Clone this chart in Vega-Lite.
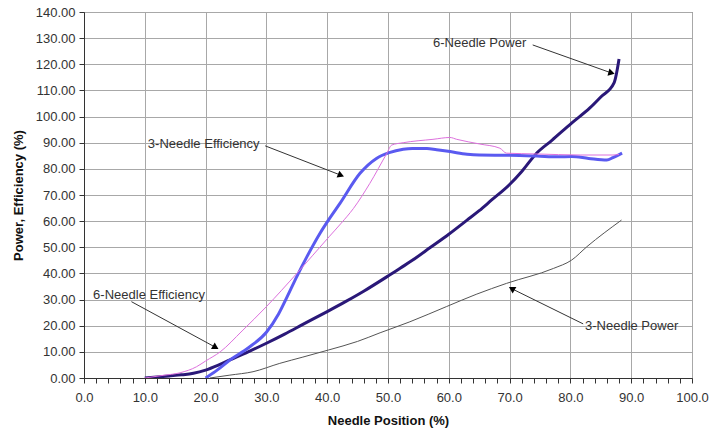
{
  "$schema": "https://vega.github.io/schema/vega-lite/v6.json",
  "width": 608,
  "height": 366,
  "autosize": "none",
  "padding": {"left": 84, "top": 12, "right": 17, "bottom": 52},
  "background": "white",
  "config": {
    "font": "Liberation Sans",
    "view": {"stroke": "#555555", "strokeWidth": 1},
    "axis": {
      "labelFont": "Liberation Sans",
      "labelFontSize": 13,
      "labelColor": "#333333",
      "titleFont": "Liberation Sans",
      "titleFontSize": 13,
      "titleFontWeight": "bold",
      "titleColor": "#111111",
      "gridColor": "#a8a8a8",
      "gridWidth": 1,
      "domainColor": "#333333",
      "tickColor": "#333333",
      "tickSize": 5
    }
  },
  "datasets": {
    "lines": [
      {"series": "6-Needle Power", "x": 10, "y": 0},
      {"series": "6-Needle Power", "x": 12, "y": 0.4},
      {"series": "6-Needle Power", "x": 14, "y": 0.8},
      {"series": "6-Needle Power", "x": 16, "y": 1.2},
      {"series": "6-Needle Power", "x": 18, "y": 1.8},
      {"series": "6-Needle Power", "x": 20, "y": 3},
      {"series": "6-Needle Power", "x": 22, "y": 4.8},
      {"series": "6-Needle Power", "x": 24, "y": 6.9},
      {"series": "6-Needle Power", "x": 27, "y": 10},
      {"series": "6-Needle Power", "x": 30, "y": 13.3},
      {"series": "6-Needle Power", "x": 33, "y": 16.8},
      {"series": "6-Needle Power", "x": 36, "y": 20.5},
      {"series": "6-Needle Power", "x": 40, "y": 25.4},
      {"series": "6-Needle Power", "x": 43, "y": 29.2},
      {"series": "6-Needle Power", "x": 46, "y": 33.2},
      {"series": "6-Needle Power", "x": 50, "y": 39},
      {"series": "6-Needle Power", "x": 52, "y": 42},
      {"series": "6-Needle Power", "x": 54, "y": 45},
      {"series": "6-Needle Power", "x": 57, "y": 50},
      {"series": "6-Needle Power", "x": 60, "y": 55},
      {"series": "6-Needle Power", "x": 63, "y": 60.4},
      {"series": "6-Needle Power", "x": 65, "y": 64},
      {"series": "6-Needle Power", "x": 67, "y": 68},
      {"series": "6-Needle Power", "x": 70, "y": 74},
      {"series": "6-Needle Power", "x": 72, "y": 79},
      {"series": "6-Needle Power", "x": 74.4, "y": 85.9},
      {"series": "6-Needle Power", "x": 77, "y": 91},
      {"series": "6-Needle Power", "x": 80.2, "y": 97.5},
      {"series": "6-Needle Power", "x": 83.2, "y": 103.3},
      {"series": "6-Needle Power", "x": 85, "y": 107.5},
      {"series": "6-Needle Power", "x": 87.2, "y": 113},
      {"series": "6-Needle Power", "x": 88, "y": 122},
      {"series": "3-Needle Efficiency", "x": 20, "y": 0},
      {"series": "3-Needle Efficiency", "x": 22, "y": 3.2},
      {"series": "3-Needle Efficiency", "x": 24, "y": 6.9},
      {"series": "3-Needle Efficiency", "x": 27, "y": 11.5},
      {"series": "3-Needle Efficiency", "x": 30, "y": 17.5},
      {"series": "3-Needle Efficiency", "x": 32, "y": 24.5},
      {"series": "3-Needle Efficiency", "x": 33.5, "y": 31.5},
      {"series": "3-Needle Efficiency", "x": 35, "y": 38.8},
      {"series": "3-Needle Efficiency", "x": 36.8, "y": 47},
      {"series": "3-Needle Efficiency", "x": 38.8, "y": 55.3},
      {"series": "3-Needle Efficiency", "x": 40.2, "y": 60.4},
      {"series": "3-Needle Efficiency", "x": 42.1, "y": 66.8},
      {"series": "3-Needle Efficiency", "x": 45.4, "y": 78.3},
      {"series": "3-Needle Efficiency", "x": 48.1, "y": 84},
      {"series": "3-Needle Efficiency", "x": 50.2, "y": 86.2},
      {"series": "3-Needle Efficiency", "x": 52.5, "y": 87.5},
      {"series": "3-Needle Efficiency", "x": 54, "y": 87.8},
      {"series": "3-Needle Efficiency", "x": 56.4, "y": 87.8},
      {"series": "3-Needle Efficiency", "x": 58, "y": 87.3},
      {"series": "3-Needle Efficiency", "x": 60.2, "y": 86.6},
      {"series": "3-Needle Efficiency", "x": 63, "y": 85.6},
      {"series": "3-Needle Efficiency", "x": 65, "y": 85.3},
      {"series": "3-Needle Efficiency", "x": 70, "y": 85.2},
      {"series": "3-Needle Efficiency", "x": 74.5, "y": 84.9},
      {"series": "3-Needle Efficiency", "x": 78, "y": 84.6},
      {"series": "3-Needle Efficiency", "x": 80.2, "y": 84.7},
      {"series": "3-Needle Efficiency", "x": 83, "y": 84},
      {"series": "3-Needle Efficiency", "x": 86, "y": 83.4},
      {"series": "3-Needle Efficiency", "x": 87, "y": 84.3},
      {"series": "3-Needle Efficiency", "x": 88.5, "y": 86},
      {"series": "6-Needle Efficiency", "x": 10, "y": 0},
      {"series": "6-Needle Efficiency", "x": 13, "y": 1},
      {"series": "6-Needle Efficiency", "x": 15.8, "y": 2},
      {"series": "6-Needle Efficiency", "x": 18.5, "y": 4.3},
      {"series": "6-Needle Efficiency", "x": 20, "y": 6.5},
      {"series": "6-Needle Efficiency", "x": 22.4, "y": 10},
      {"series": "6-Needle Efficiency", "x": 26, "y": 18},
      {"series": "6-Needle Efficiency", "x": 30, "y": 27.3},
      {"series": "6-Needle Efficiency", "x": 35, "y": 40},
      {"series": "6-Needle Efficiency", "x": 40.3, "y": 54},
      {"series": "6-Needle Efficiency", "x": 42.3, "y": 59.2},
      {"series": "6-Needle Efficiency", "x": 44.3, "y": 64.8},
      {"series": "6-Needle Efficiency", "x": 47, "y": 74.4},
      {"series": "6-Needle Efficiency", "x": 49.8, "y": 85.9},
      {"series": "6-Needle Efficiency", "x": 50.6, "y": 89.1},
      {"series": "6-Needle Efficiency", "x": 52.5, "y": 90},
      {"series": "6-Needle Efficiency", "x": 57.4, "y": 91.3},
      {"series": "6-Needle Efficiency", "x": 60.2, "y": 92},
      {"series": "6-Needle Efficiency", "x": 61.3, "y": 91.3},
      {"series": "6-Needle Efficiency", "x": 65.1, "y": 89.5},
      {"series": "6-Needle Efficiency", "x": 68.4, "y": 87.9},
      {"series": "6-Needle Efficiency", "x": 69.5, "y": 86},
      {"series": "6-Needle Efficiency", "x": 74.5, "y": 85.7},
      {"series": "6-Needle Efficiency", "x": 81.6, "y": 85.3},
      {"series": "6-Needle Efficiency", "x": 87, "y": 85.3},
      {"series": "6-Needle Efficiency", "x": 88, "y": 85.5},
      {"series": "3-Needle Power", "x": 20.7, "y": 0},
      {"series": "3-Needle Power", "x": 24, "y": 1.1},
      {"series": "3-Needle Power", "x": 27.8, "y": 2.4},
      {"series": "3-Needle Power", "x": 32.2, "y": 5.6},
      {"series": "3-Needle Power", "x": 36, "y": 8},
      {"series": "3-Needle Power", "x": 40.2, "y": 10.7},
      {"series": "3-Needle Power", "x": 45, "y": 14},
      {"series": "3-Needle Power", "x": 48.7, "y": 17.3},
      {"series": "3-Needle Power", "x": 53.6, "y": 21.5},
      {"series": "3-Needle Power", "x": 59.6, "y": 27.3},
      {"series": "3-Needle Power", "x": 64.5, "y": 32},
      {"series": "3-Needle Power", "x": 69.5, "y": 36.2},
      {"series": "3-Needle Power", "x": 77.2, "y": 41.9},
      {"series": "3-Needle Power", "x": 80.2, "y": 45.1},
      {"series": "3-Needle Power", "x": 82.7, "y": 50.2},
      {"series": "3-Needle Power", "x": 88.4, "y": 60.4}
    ],
    "notes": [
      {"label": "3-Needle Efficiency", "x": 10.5, "y": 89.5},
      {"label": "6-Needle Efficiency", "x": 1.5, "y": 31.8},
      {"label": "6-Needle Power", "x": 57.4, "y": 128},
      {"label": "3-Needle Power", "x": 82.4, "y": 19.9}
    ],
    "arrows": [
      {"label": "3-Needle Efficiency", "x": 29.8, "y": 88.8, "x2": 42.1, "y2": 77.7},
      {"label": "6-Needle Efficiency", "x": 7.8, "y": 29.2, "x2": 21.5, "y2": 11.9},
      {"label": "6-Needle Power", "x": 73.8, "y": 127.4, "x2": 86.6, "y2": 116.8},
      {"label": "3-Needle Power", "x": 82.1, "y": 20.7, "x2": 70.5, "y2": 34}
    ],
    "heads": [
      {"label": "3-Needle Efficiency", "x": 42.1, "y": 77.7},
      {"label": "6-Needle Efficiency", "x": 21.5, "y": 11.9},
      {"label": "6-Needle Power", "x": 86.6, "y": 116.8},
      {"label": "3-Needle Power", "x": 70.5, "y": 34}
    ]
  },
  "encoding": {
    "x": {
      "field": "x", "type": "quantitative",
      "scale": {"domain": [0, 100], "nice": false, "zero": false},
      "axis": {
        "title": "Needle Position (%)",
        "values": [0,2,4,6,8,10,12,14,16,18,20,22,24,26,28,30,32,34,36,38,40,42,44,46,48,50,52,54,56,58,60,62,64,66,68,70,72,74,76,78,80,82,84,86,88,90,92,94,96,98,100],
        "labelExpr": "datum.value % 10 === 0 ? format(datum.value, '.1f') : ''",
        "gridOpacity": {"condition": {"test": "datum.value % 10 === 0", "value": 1}, "value": 0},
        "labelOverlap": false,
        "labelPadding": 8,
        "titlePadding": 10,
        "labelFlush": false
      }
    },
    "y": {
      "field": "y", "type": "quantitative",
      "scale": {"domain": [0, 140], "nice": false},
      "axis": {
        "title": "Power, Efficiency (%)",
        "values": [0,10,20,30,40,50,60,70,80,90,100,110,120,130,140],
        "format": ".2f",
        "labelOverlap": false,
        "labelPadding": 4,
        "titlePadding": 10,
        "labelFlush": false
      }
    }
  },
  "layer": [
    {
      "data": {"name": "lines"},
      "transform": [{"filter": "datum.series === '3-Needle Power'"}],
      "mark": {"type": "line", "clip": true, "color": "#555555", "strokeWidth": 1, "interpolate": "monotone"},
      "encoding": {"order": {"field": "x", "type": "quantitative"}}
    },
    {
      "data": {"name": "lines"},
      "transform": [{"filter": "datum.series === '6-Needle Power'"}],
      "mark": {"type": "line", "clip": true, "color": "#2a1878", "strokeWidth": 3, "interpolate": "monotone"},
      "encoding": {"order": {"field": "x", "type": "quantitative"}}
    },
    {
      "data": {"name": "lines"},
      "transform": [{"filter": "datum.series === '3-Needle Efficiency'"}],
      "mark": {"type": "line", "clip": true, "color": "#5a5af0", "strokeWidth": 3, "interpolate": "monotone"},
      "encoding": {"order": {"field": "x", "type": "quantitative"}}
    },
    {
      "data": {"name": "lines"},
      "transform": [{"filter": "datum.series === '6-Needle Efficiency'"}],
      "mark": {"type": "line", "clip": true, "color": "#dd70dd", "strokeWidth": 1, "interpolate": "monotone"},
      "encoding": {"order": {"field": "x", "type": "quantitative"}}
    },
    {
      "data": {"name": "arrows"},
      "mark": {"type": "rule", "color": "#333333", "strokeWidth": 1},
      "encoding": {
        "x2": {"field": "x2"},
        "y2": {"field": "y2"}
      }
    },
    {
      "data": {"name": "heads"},
      "transform": [{"filter": "datum.label === '3-Needle Efficiency'"}],
      "mark": {"type": "point", "shape": "triangle", "filled": true, "color": "black", "opacity": 1, "size": 55, "angle": 112}
    },
    {
      "data": {"name": "heads"},
      "transform": [{"filter": "datum.label === '6-Needle Efficiency'"}],
      "mark": {"type": "point", "shape": "triangle", "filled": true, "color": "black", "opacity": 1, "size": 55, "angle": 0}
    },
    {
      "data": {"name": "heads"},
      "transform": [{"filter": "datum.label === '6-Needle Power'"}],
      "mark": {"type": "point", "shape": "triangle", "filled": true, "color": "black", "opacity": 1, "size": 55, "angle": 105}
    },
    {
      "data": {"name": "heads"},
      "transform": [{"filter": "datum.label === '3-Needle Power'"}],
      "mark": {"type": "point", "shape": "triangle", "filled": true, "color": "black", "opacity": 1, "size": 55, "angle": 180}
    },
    {
      "data": {"name": "notes"},
      "mark": {"type": "text", "align": "left", "baseline": "middle", "font": "Liberation Sans", "fontSize": 13, "color": "#333333"},
      "encoding": {
        "text": {"field": "label"}
      }
    }
  ]
}
